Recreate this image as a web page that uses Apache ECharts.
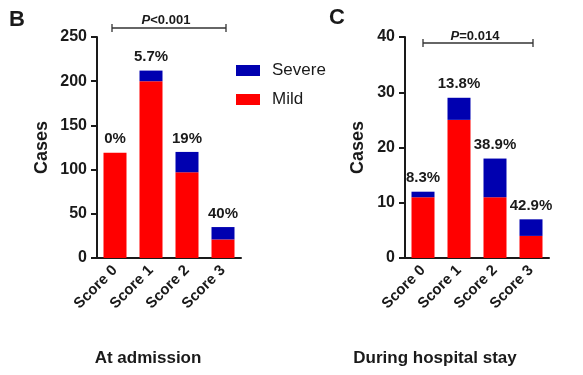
<!DOCTYPE html>
<html>
<head>
<meta charset="utf-8">
<script src="https://cdn.jsdelivr.net/npm/echarts@6/dist/echarts.min.js"></script>
<style>
html,body{margin:0;padding:0;background:#fff;}
#main{width:583px;height:375px;}
</style>
</head>
<body>
<div id="main"></div>
<script>
// data
var categories = ['Score 0', 'Score 1', 'Score 2', 'Score 3'];
var admissionMild = [119, 200, 97, 21];
var admissionSevere = [0, 12, 23, 14];
var admissionPct = ['0%', '5.7%', '19%', '40%'];
var stayMild = [11, 25, 11, 4];
var staySevere = [1, 4, 7, 3];
var stayPct = ['8.3%', '13.8%', '38.9%', '42.9%'];

var FONT = '"Liberation Sans", Arial, sans-serif';
var RED = '#FF0000';
var BLUE = '#0000B0';
var INK = '#1a1a1a';

function xAxisOpt(idx) {
	return {
		type: 'category',
		gridIndex: idx,
		data: categories,
		axisLine: { lineStyle: { color: INK, width: 2 } },
		axisTick: { alignWithLabel: true, length: 7, lineStyle: { color: INK, width: 2 } },
		axisLabel: { rotate: 45, color: INK, fontWeight: 'bold', fontSize: 15, fontFamily: FONT, margin: 10 }
	};
}

function yAxisOpt(idx, max, interval, gap) {
	return {
		type: 'value',
		gridIndex: idx,
		min: 0,
		max: max,
		interval: interval,
		name: 'Cases',
		nameLocation: 'middle',
		nameGap: gap,
		nameTextStyle: { color: INK, fontWeight: 'bold', fontSize: 18, fontFamily: FONT },
		splitLine: { show: false },
		axisLine: { show: true, lineStyle: { color: INK, width: 2 } },
		axisTick: { show: true, length: 6, lineStyle: { color: INK, width: 2 } },
		axisLabel: { color: INK, fontWeight: 'bold', fontSize: 16, fontFamily: FONT, margin: 10 }
	};
}

function barSeries(name, data, color, idx, pct) {
	var s = {
		name: name,
		type: 'bar',
		stack: 'g' + idx,
		xAxisIndex: idx,
		yAxisIndex: idx,
		barWidth: 23,
		itemStyle: { color: color },
		data: data
	};
	if (pct) {
		s.label = {
			show: true,
			position: 'top',
			distance: 6,
			color: INK,
			fontWeight: 'bold',
			fontSize: 15,
			fontFamily: FONT,
			formatter: function (p) { return pct[p.dataIndex]; }
		};
	}
	return s;
}

function bracket(x1, x2, y) {
	return {
		type: 'group',
		children: [
			{ type: 'line', shape: { x1: x1, y1: y, x2: x2, y2: y }, style: { stroke: '#333', lineWidth: 1.3 } },
			{ type: 'line', shape: { x1: x1, y1: y - 4, x2: x1, y2: y + 4 }, style: { stroke: '#333', lineWidth: 1.3 } },
			{ type: 'line', shape: { x1: x2, y1: y - 4, x2: x2, y2: y + 4 }, style: { stroke: '#333', lineWidth: 1.3 } }
		]
	};
}

function pText(x, y, rest) {
	return {
		type: 'text', x: x, y: y,
		style: {
			text: '{i|P}{n|' + rest + '}',
			align: 'center', verticalAlign: 'middle',
			rich: {
				i: { fontStyle: 'italic', fontWeight: 'bold', fontSize: 13, fontFamily: FONT, fill: INK },
				n: { fontWeight: 'bold', fontSize: 13, fontFamily: FONT, fill: INK }
			}
		}
	};
}

function plainText(str, x, y, size) {
	return {
		type: 'text', x: x, y: y,
		style: { text: str, align: 'center', verticalAlign: 'middle', fontSize: size, fontWeight: 'bold', fontFamily: FONT, fill: INK }
	};
}

var chart = echarts.init(document.getElementById('main'));
chart.setOption({
	backgroundColor: '#fff',
	animation: false,
	grid: [
		{ left: 97, width: 144, top: 37, height: 221 },
		{ left: 405, width: 144, top: 37, height: 221 }
	],
	legend: {
		data: ['Severe', 'Mild'],
		orient: 'vertical',
		left: 231,
		top: 57,
		itemWidth: 24,
		itemHeight: 11,
		itemGap: 12,
		icon: 'rect',
		textStyle: { color: INK, fontSize: 17, fontFamily: FONT, padding: [0, 0, 0, 7] }
	},
	xAxis: [xAxisOpt(0), xAxisOpt(1)],
	yAxis: [yAxisOpt(0, 250, 50, 46), yAxisOpt(1, 40, 10, 38)],
	series: [
		barSeries('Mild', admissionMild, RED, 0),
		barSeries('Severe', admissionSevere, BLUE, 0, admissionPct),
		barSeries('Mild', stayMild, RED, 1),
		barSeries('Severe', staySevere, BLUE, 1, stayPct)
	],
	graphic: [
		plainText('B', 17, 20, 22),
		plainText('C', 337, 18, 22),
		bracket(112, 226, 28),
		pText(166, 20, '<0.001'),
		bracket(423, 533, 43),
		pText(475, 36, '=0.014'),
		plainText('At admission', 148, 358, 17),
		plainText('During hospital stay', 435, 358, 17)
	]
});
</script>
</body>
</html>
